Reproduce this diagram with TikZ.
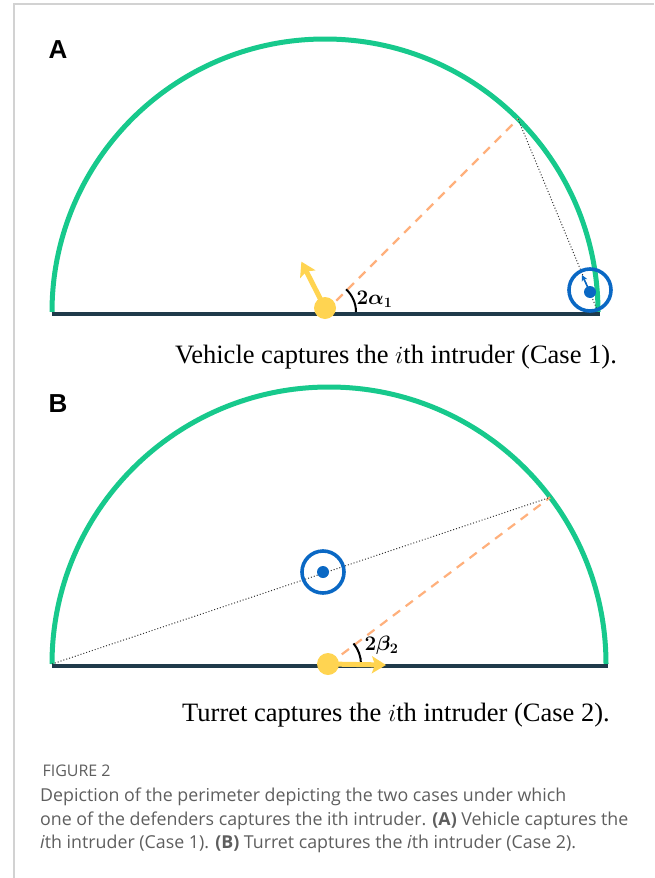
\documentclass[tikz,border=0pt]{standalone}
\usepackage{amsmath}
\usepackage{bm}
\usepackage{fontspec}
\setmainfont{Liberation Serif}
\newfontfamily\capfont{Open Sans}
\newfontfamily\panelfont{Liberation Sans}
\usetikzlibrary{positioning, arrows.meta, calc}

\definecolor{rimgreen}{HTML}{17C98C}
\definecolor{basedark}{HTML}{1F3A4A}
\definecolor{tyellow}{HTML}{FFD451}
\definecolor{sorange}{HTML}{FFB07C}
\definecolor{vblue}{HTML}{0A68C4}
\definecolor{capgrey}{HTML}{5E5E5E}
\definecolor{framegrey}{HTML}{D2D2D2}

\begin{document}
\begin{tikzpicture}[
    x=1pt, y=1pt,
    rim/.style={draw=rimgreen, line width=5pt},
    base/.style={draw=basedark, line width=4pt},
    sight/.style={draw=sorange, line width=2.2pt, dash pattern=on 9pt off 7pt},
    chord/.style={draw=black!80, line width=1pt, dotted},
    turret/.style={circle, fill=tyellow, minimum size=22pt, inner sep=0pt},
    head/.style={draw=tyellow, line width=5pt, -{Stealth[length=14pt, width=17pt, inset=3pt]}},
    vring/.style={circle, draw=vblue, line width=3.6pt, minimum size=42pt, inner sep=0pt},
    vdot/.style={circle, fill=vblue, minimum size=12pt, inner sep=0pt},
    vhead/.style={draw=vblue, line width=1.6pt, -{Stealth[length=6pt, width=6pt]}},
    angmark/.style={draw=black, line width=2pt},
    panel/.style={font=\panelfont\bfseries\fontsize{26}{26}\selectfont, anchor=center},
    sub/.style={font=\fontsize{26.5}{30}\selectfont, anchor=base},
    ang/.style={font=\boldmath\fontsize{20}{20}\selectfont, anchor=west}
]
\useasboundingbox (0,0) rectangle (654,-878);
% page frame
\draw[framegrey, line width=1.5pt] (14,-878) -- (14,-4) -- (654,-4);

% panel A
\node[panel] (labA) at (58,-50) {A};
\coordinate (cA) at (325,-312);
\coordinate (lA) at (52,-312);
\coordinate (rA) at (598,-312);
\coordinate (bAl) at (52,-314);
\coordinate (bAr) at (600,-314);
\coordinate (pA) at ($(cA)+(45:273)$);
\draw[rim] (lA) arc[start angle=180, end angle=0, radius=273];
\draw[sight] (cA) -- (pA);
\draw[chord] (pA) -- (rA);
\draw[base] (bAl) -- (bAr);
\draw[angmark] ($(cA)+(0:31)$) arc[start angle=0, end angle=47, radius=31];
\node[ang] (aA) at (353,-299) {$\bm{2\alpha_1}$};
\node[turret] (tA) at (325,-308) {};
\coordinate (hA) at ($(tA)+(117:52)$);
\draw[head] (tA.center) -- (hA);
\node[vring] (vA) at (590,-290) {};
\node[vdot] (vdA) at (590,-292) {};
\coordinate (vhA) at (582,-275);
\draw[vhead] (vdA.center) -- (vhA);
\node[sub] (subA) at (396,-363) {Vehicle captures the $i$th intruder (Case 1).};

% panel B
\node[panel] (labB) at (58,-404) {B};
\coordinate (cB) at (329,-664);
\coordinate (lB) at (52,-664);
\coordinate (bBl) at (52,-666);
\coordinate (bBr) at (608,-666);
\coordinate (pB) at ($(cB)+(37:277)$);
\draw[rim] (lB) arc[start angle=180, end angle=0, radius=277];
\draw[sight] (cB) -- (pB);
\draw[chord] (lB) -- (pB);
\draw[base] (bBl) -- (bBr);
\draw[angmark] ($(cB)+(0:32)$) arc[start angle=0, end angle=40, radius=32];
\node[ang] (aB) at (361,-645) {$\bm{2\beta_2}$};
\node[turret] (tB) at (328,-664) {};
\coordinate (hB) at (386,-665);
\draw[head] (tB.center) -- (hB);
\node[vring] (vB) at (323,-572) {};
\node[vdot] (vdB) at (323,-572) {};
\node[sub] (subB) at (396,-721) {Turret captures the $i$th intruder (Case 2).};

% figure caption
\node[anchor=west, text=capgrey, font=\capfont\fontsize{16}{20}\selectfont] (fig) at (39,-771) {FIGURE 2};
\node[anchor=north west, align=left, inner sep=0pt, text=capgrey, font=\capfont\fontsize{17.8}{23.3}\selectfont] (cap) at (40,-788)
  {Depiction of the perimeter depicting the two cases under which\\
   one of the defenders captures the ith intruder. \textbf{(A)} Vehicle captures the\\
   \textit{i}th intruder (Case 1). \textbf{(B)} Turret captures the \textit{i}th intruder (Case 2).};
\end{tikzpicture}
\end{document}
